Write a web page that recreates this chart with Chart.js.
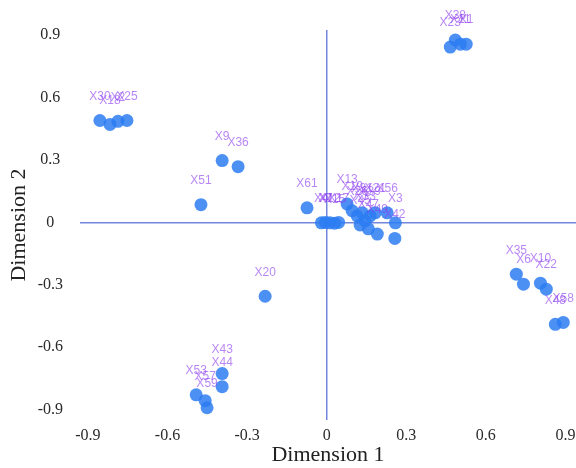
<!DOCTYPE html>
<html>
<head>
<meta charset="utf-8">
<script src="https://cdn.jsdelivr.net/npm/chart.js@4.4.1/dist/chart.umd.min.js"></script>
<style>
  html, body { margin: 0; padding: 0; background: #fff; overflow: hidden; }
  canvas { display: block; }
</style>
</head>
<body>
<canvas id="chart" width="576" height="468"></canvas>
<script>
const pointNames = [
  "X30", "X18", "X2", "X25",
  "X23", "X38", "X11", "X1",
  "X9", "X36", "X51", "X61", "X20",
  "X4", "X7", "X12", "X15", "X17",
  "X13", "X19", "X26", "X31", "X33", "X39", "X45", "X47", "X21", "X56", "X49",
  "X3", "X42",
  "X35", "X6", "X10", "X22", "X48", "X58",
  "X43", "X44", "X53", "X57", "X59"
];
const dim1 = [
  -0.855, -0.817, -0.787, -0.753,
  0.466, 0.485, 0.504, 0.526,
  -0.394, -0.334, -0.474, -0.074, -0.232,
  -0.02, -0.005, 0.012, 0.03, 0.045,
  0.077, 0.096, 0.115, 0.134, 0.145, 0.164, 0.126, 0.157, 0.183, 0.228, 0.191,
  0.259, 0.257,
  0.715, 0.742, 0.806, 0.828, 0.862, 0.892,
  -0.394, -0.394, -0.492, -0.458, -0.451
];
const dim2 = [
  0.49, 0.471, 0.486, 0.49,
  0.843, 0.877, 0.857, 0.857,
  0.297, 0.268, 0.085, 0.07, -0.355,
  -0.002, 0.0, -0.002, -0.004, 0.0,
  0.089, 0.056, 0.031, 0.046, 0.007, 0.031, -0.012, -0.031, 0.046, 0.046, -0.056,
  -0.002, -0.077,
  -0.249, -0.297, -0.292, -0.321, -0.49, -0.481,
  -0.727, -0.79, -0.829, -0.857, -0.891
];
const tickValues = [-0.9, -0.6, -0.3, 0, 0.3, 0.6, 0.9];

const points = dim1.map((x, i) => ({ x, y: dim2[i] }));

// names drawn above each point, semi-transparent so overlaps darken
const pointLabels = {
  id: "pointLabels",
  afterDatasetsDraw(chart) {
    const ctx = chart.ctx;
    const meta = chart.getDatasetMeta(0);
    ctx.save();
    ctx.font = "12px 'Liberation Sans', Arial, sans-serif";
    ctx.textAlign = "center";
    ctx.textBaseline = "middle";
    ctx.fillStyle = "rgba(140, 60, 240, 0.62)";
    meta.data.forEach((el, i) => {
      ctx.fillText(pointNames[i], el.x, el.y - 24);
    });
    ctx.restore();
  }
};

function zeroLine(ctx) {
  return ctx.tick && ctx.tick.value === 0 ? "#7186dc" : "rgba(0,0,0,0)";
}

function fixedTicks(scale) {
  scale.ticks = tickValues.map((v) => ({ value: v }));
}

const serif = "'Liberation Serif', 'Times New Roman', serif";

new Chart(document.getElementById("chart"), {
  type: "scatter",
  data: {
    datasets: [{
      data: points,
      backgroundColor: "rgba(45, 125, 242, 0.85)",
      borderWidth: 0,
      pointRadius: 6.5,
      pointHoverRadius: 6.5
    }]
  },
  options: {
    responsive: false,
    animation: false,
    layout: { autoPadding: false, padding: { top: 30, right: 0, left: 0, bottom: 0 } },
    plugins: { legend: { display: false }, tooltip: { enabled: false } },
    scales: {
      x: {
        type: "linear",
        min: -0.93,
        max: 0.94,
        afterBuildTicks: fixedTicks,
        afterFit(scale) {
          scale.height = 48;
          // let the last tick label run off the edge like the original
          scale.paddingRight = 0;
        },
        border: { display: false },
        grid: { color: zeroLine, lineWidth: 1.5, drawTicks: false },
        ticks: {
          padding: 6,
          color: "#2a2a2a",
          font: { family: serif, size: 16 },
          callback: (v) => String(Math.round(v * 10) / 10)
        },
        title: {
          display: true,
          text: "Dimension 1",
          color: "#222",
          padding: { top: 0, bottom: 0 },
          font: { family: serif, size: 22 }
        }
      },
      y: {
        type: "linear",
        min: -0.95,
        max: 0.925,
        afterBuildTicks: fixedTicks,
        afterFit(scale) { scale.width = 80; },
        border: { display: false },
        grid: { color: zeroLine, lineWidth: 1.5, drawTicks: false },
        ticks: {
          padding: 17,
          crossAlign: "center",
          color: "#2a2a2a",
          font: { family: serif, size: 16 },
          callback: (v) => String(Math.round(v * 10) / 10)
        },
        title: {
          display: true,
          text: "Dimension 2",
          color: "#222",
          padding: { top: 6, bottom: 0 },
          font: { family: serif, size: 22 }
        }
      }
    }
  },
  plugins: [pointLabels]
});
</script>
</body>
</html>
